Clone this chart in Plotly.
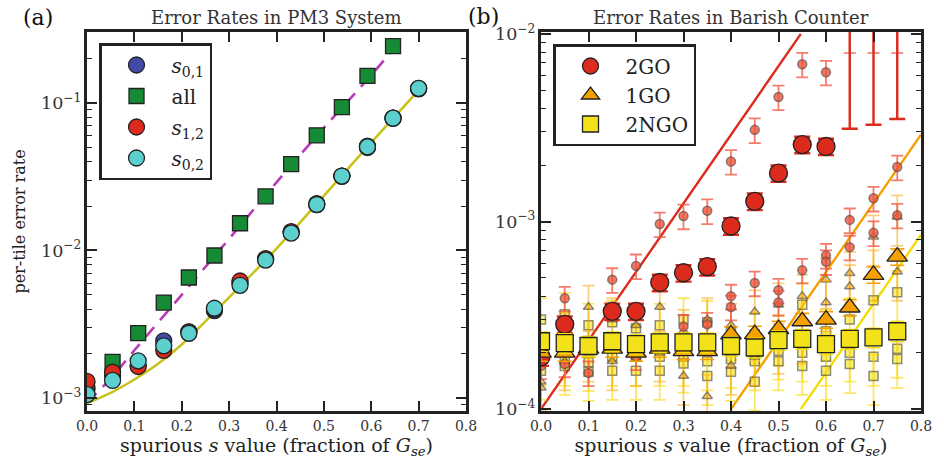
import plotly.graph_objects as go

# ---------------- Panel (a): PM3 system ----------------
s_a = [0.0, 0.054, 0.108, 0.162, 0.215, 0.269, 0.323, 0.377, 0.431, 0.485, 0.538, 0.592, 0.646, 0.700]
rate_s01 = [0.00115, 0.00140, 0.00165, 0.00243, 0.00280, 0.00390, 0.00600, 0.00870, 0.01330, 0.0205, 0.0320, 0.0500, 0.0790, 0.1250]
rate_all = [0.00115, 0.00175, 0.00275, 0.00443, 0.00655, 0.00924, 0.01530, 0.02330, 0.03850, 0.0605, 0.0940, 0.1530, 0.2440]
rate_s12 = [0.00129, 0.00149, 0.00163, 0.00210, 0.00280, 0.00400, 0.00620, 0.00880, 0.01340, 0.0208, 0.0320, 0.0510, 0.0790, 0.1260]
rate_s02 = [0.00105, 0.00131, 0.00178, 0.00225, 0.00274, 0.00405, 0.00580, 0.00860, 0.01310, 0.0205, 0.0320, 0.0505, 0.0790, 0.1260]

fit_all_s = [0.0, 0.05, 0.1, 0.2, 0.3, 0.4, 0.5, 0.6, 0.65]
fit_all_y = [0.00093, 0.00135, 0.0021, 0.0050, 0.0120, 0.029, 0.068, 0.155, 0.24]
fit_pair_s = [0.0, 0.05, 0.1, 0.15, 0.2, 0.3, 0.4, 0.5, 0.6, 0.7]
fit_pair_y = [0.00092, 0.00108, 0.00133, 0.0017, 0.0023, 0.0048, 0.0103, 0.0235, 0.054, 0.122]

# ---------------- Panel (b): Barish counter ----------------
go2_s = [0.0, 0.05, 0.15, 0.2, 0.25, 0.3, 0.35, 0.4, 0.45, 0.5, 0.55, 0.6, 0.65, 0.7, 0.75]
go2_mean = [0.00019, 0.000283, 0.000332, 0.000332, 0.000473, 0.000533, 0.000575, 0.000946, 0.00128, 0.00181, 0.00257, 0.00251, 0.03, 0.03, 0.03]
go2_low = [0.00017, 0.000255, 0.000298, 0.000298, 0.000425, 0.000478, 0.000515, 0.00085, 0.00115, 0.00163, 0.00231, 0.00226, 0.00312, 0.00328, 0.00352]
go2_high = [0.00021, 0.000312, 0.000365, 0.000365, 0.00052, 0.000585, 0.00063, 0.00104, 0.00141, 0.00199, 0.00283, 0.00276, 0.05, 0.05, 0.05]

go2_rep1_s = [0.05, 0.15, 0.2, 0.25, 0.3, 0.35, 0.4, 0.45, 0.5, 0.55, 0.6]
go2_rep1 = [0.00039, 0.00049, 0.00058, 0.00097, 0.00107, 0.00114, 0.00209, 0.00308, 0.00461, 0.00689, 0.00625]
go2_rep1_off_s = [0.65, 0.7, 0.75]
go2_rep1_off = [0.0113, 0.0113, 0.0113]
go2_rep2_s = [0.0, 0.05, 0.1, 0.2, 0.3, 0.35, 0.4, 0.45, 0.5, 0.55, 0.6, 0.65, 0.7, 0.75]
go2_rep2 = [0.00017, 0.000174, 0.000156, 0.00019, 0.000276, 0.000283, 0.00040, 0.00047, 0.00043, 0.00055, 0.00066, 0.00102, 0.00133, 0.00195]
go2_rep3_s = [0.4, 0.5, 0.6, 0.65, 0.7, 0.75]
go2_rep3 = [0.00035, 0.00037, 0.00061, 0.00073, 0.00087, 0.00108]

s_b = [0.0, 0.05, 0.1, 0.15, 0.2, 0.25, 0.3, 0.35, 0.4, 0.45, 0.5, 0.55, 0.6, 0.65, 0.7, 0.75]
go1_mean = [0.00020, 0.00020, 0.00021, 0.00021, 0.00020, 0.00021, 0.000204, 0.000204, 0.00025, 0.000251, 0.000267, 0.000294, 0.00030, 0.000348, 0.00052, 0.00065]
go1_rep1 = [0.00014, 0.00025, 0.00035, 0.00030, 0.00028, 0.00035, 0.00026, 0.00030, 0.00028, 0.00033, 0.00036, 0.00040, 0.00049, 0.00053, 0.00083, 0.00106]
go1_rep2 = [0.00013, 0.00018, 0.00020, 0.00018, 0.00019, 0.00020, 0.00015, 0.000117, 0.00017, 0.00019, 0.00022, 0.00025, 0.00037, 0.00045, 0.00054, 0.00054]

ngo_mean = [0.00023, 0.000225, 0.000217, 0.00023, 0.000222, 0.000227, 0.000227, 0.000227, 0.000217, 0.000213, 0.000233, 0.000237, 0.000222, 0.000237, 0.000241, 0.00026]
ngo_rep1 = [0.00030, 0.00032, 0.00028, 0.00029, 0.00027, 0.00028, 0.00030, 0.00029, 0.00026, 0.00025, 0.000244, 0.00036, 0.00026, 0.00030, 0.00038, 0.00042]
ngo_rep2 = [0.00019, 0.00019, 0.000178, 0.00019, 0.00019, 0.00019, 0.00019, 0.00018, 0.000185, 0.00018, 0.000205, 0.00020, 0.00019, 0.00020, 0.00019, 0.00021]
ngo_rep3 = [0.00016, 0.00017, 0.000158, 0.00016, 0.00016, 0.00016, 0.000175, 0.00015, 0.000158, 0.00014, 0.00018, 0.00017, 0.00016, 0.000174, 0.00015, 0.000185]

fit_go2_s = [0.0, 0.547]
fit_go2_y = [1e-4, 1e-2]
fit_go1_s = [0.40, 0.80]
fit_go1_y = [1e-4, 0.0029]
fit_ngo_s = [0.547, 0.80]
fit_ngo_y = [1e-4, 0.00085]

# ---------------- styling ----------------
FONT = "DejaVu Serif"
EDGE = "#222222"
BLUE, GREEN, RED, CYAN = "#4449a6", "#178a35", "#dc2a1c", "#5ccfcf"
ORANGE, YELLOW = "#f5a000", "#f3e21a"

fig = go.Figure()


def big(x, y, color, symbol, name, xa, ya, legend, size=16, err=0.03, errcolor=None, show=True):
    fig.add_trace(go.Scatter(
        x=x, y=y, mode="markers", name=name, xaxis=xa, yaxis=ya, legend=legend,
        legendgroup=name, showlegend=show,
        marker=dict(symbol=symbol, size=size, color=color, line=dict(color=EDGE, width=1.3)),
        error_y=dict(type="percent", value=err * 100, color=errcolor or color, thickness=1.5, width=7),
    ))


# panel (a) fits
fig.add_trace(go.Scatter(x=fit_all_s, y=fit_all_y, mode="lines", line=dict(color="#b43cb4", width=2.6, dash="13px,9px", shape="spline"),
                         xaxis="x", yaxis="y", showlegend=False, hoverinfo="skip"))
fig.add_trace(go.Scatter(x=fit_pair_s, y=fit_pair_y, mode="lines", line=dict(color="#c8c21c", width=2.6, shape="spline"),
                         xaxis="x", yaxis="y", showlegend=False, hoverinfo="skip"))

big(s_a, rate_s01, BLUE, "circle", "<i>s</i><sub>0,1</sub>", "x", "y", "legend")
big(s_a[:13], rate_all, GREEN, "square", "all", "x", "y", "legend", size=15)
big(s_a, rate_s12, RED, "circle", "<i>s</i><sub>1,2</sub>", "x", "y", "legend")
big(s_a, rate_s02, CYAN, "circle", "<i>s</i><sub>0,2</sub>", "x", "y", "legend")

# panel (b) fits
for xs, ys, c in [(fit_go2_s, fit_go2_y, RED), (fit_go1_s, fit_go1_y, ORANGE), (fit_ngo_s, fit_ngo_y, "#f5dc00")]:
    fig.add_trace(go.Scatter(x=xs, y=ys, mode="lines", line=dict(color=c, width=2.4),
                             xaxis="x2", yaxis="y2", showlegend=False, hoverinfo="skip"))


def faded(x, y, fill, err, errcolor, symbol):
    fig.add_trace(go.Scatter(
        x=x, y=y, mode="markers", xaxis="x2", yaxis="y2", showlegend=False,
        marker=dict(symbol=symbol, size=9, color=fill, line=dict(color="rgba(70,70,70,0.6)", width=1.5)),
        error_y=dict(type="percent", value=err * 100, color=errcolor, thickness=1.8, width=6),
    ))


for ys in (ngo_rep1, ngo_rep2, ngo_rep3):
    faded(s_b, ys, "rgba(243,226,26,0.6)", 0.3, "rgba(250,215,0,0.6)", "square")
for ys in (go1_rep1, go1_rep2):
    faded(s_b, ys, "rgba(245,160,0,0.55)", 0.3, "rgba(250,160,0,0.5)", "triangle-up")
faded(go2_rep1_s, go2_rep1, "rgba(238,85,60,0.8)", 0.15, "rgba(240,80,60,0.75)", "circle")
faded(go2_rep1_off_s, go2_rep1_off, "rgba(238,85,60,0.8)", 0.30, "rgba(240,80,60,0.6)", "circle")
faded(go2_rep2_s, go2_rep2, "rgba(238,85,60,0.8)", 0.15, "rgba(240,80,60,0.75)", "circle")
faded(go2_rep3_s, go2_rep3, "rgba(238,85,60,0.8)", 0.15, "rgba(240,80,60,0.75)", "circle")

fig.add_trace(go.Scatter(
    x=go2_s, y=go2_mean, mode="markers", name="2GO", xaxis="x2", yaxis="y2", legend="legend2", legendgroup="2GO",
    marker=dict(symbol="circle", size=18, color=RED, line=dict(color=EDGE, width=1.3)),
    error_y=dict(type="data", symmetric=False,
                 array=[h - m for h, m in zip(go2_high, go2_mean)],
                 arrayminus=[m - l for m, l in zip(go2_mean, go2_low)],
                 color=RED, thickness=2.4, width=8),
))
big(s_b, go1_mean, ORANGE, "triangle-up", "1GO", "x2", "y2", "legend2", size=18, err=0.1)
big(s_b, ngo_mean, YELLOW, "square", "2NGO", "x2", "y2", "legend2", size=17, err=0.12, errcolor="#f5e000")

# ---------------- layout ----------------
W, H = 944, 467
def px_x(a, b):
    return [a / W, b / W]
def px_y(top, bottom):
    return [(H - bottom) / H, (H - top) / H]

axis_common = dict(showline=True, linecolor="#222222", linewidth=2.6, mirror="ticks", ticks="inside",
                   ticklen=10, tickwidth=1.6, tickcolor="#222222", showgrid=False, zeroline=False,
                   automargin=False,
                   tickfont=dict(family=FONT, size=14, color="#333333"))
xcommon = dict(axis_common, range=[0, 0.8], dtick=0.1, tickformat=".1f",
               title=dict(text="spurious <i>s</i> value (fraction of <i>G</i><sub><i>se</i></sub>)",
                          font=dict(family=FONT, size=19, color="#222222"), standoff=6))
ycommon = dict(axis_common, type="log", dtick=1, exponentformat="power", showexponent="all",
               minor=dict(ticks="inside", ticklen=5, tickwidth=1.4, tickcolor="#222222", showgrid=False))

legend_common = dict(bordercolor="#222222", borderwidth=2.5, bgcolor="white",
                     font=dict(family=FONT, size=20, color="#222222"),
                     xanchor="left", yanchor="top", traceorder="grouped",
                     itemsizing="trace", itemwidth=60)

fig.update_layout(
    width=W, height=H, autosize=False,
    margin=dict(l=0, r=0, t=0, b=0, autoexpand=False),
    paper_bgcolor="white", plot_bgcolor="white",
    showlegend=True,
    xaxis=dict(xcommon, domain=px_x(87, 466), anchor="y"),
    yaxis=dict(ycommon, domain=px_y(32, 411), anchor="x", range=[-3.09, -0.517],
               title=dict(text="per-tile error rate", font=dict(family=FONT, size=16, color="#222222"), standoff=12)),
    xaxis2=dict(xcommon, domain=px_x(541, 921), anchor="y2"),
    yaxis2=dict(ycommon, domain=px_y(32, 411), anchor="x2", range=[-4.01, -1.99]),
    legend=dict(legend_common, x=99 / W, y=(H - 43) / H, tracegroupgap=2),
    legend2=dict(legend_common, x=553 / W, y=(H - 44) / H, tracegroupgap=0),
    annotations=[
        dict(text="Error Rates in PM3 System", x=(87 + 466) / 2 / W, y=(H - 17) / H, xref="paper", yref="paper",
             xanchor="center", yanchor="middle",
             showarrow=False, font=dict(family=FONT, size=18, color="#333333")),
        dict(text="Error Rates in Barish Counter", x=(541 + 921) / 2 / W, y=(H - 17) / H, xref="paper", yref="paper",
             xanchor="center", yanchor="middle",
             showarrow=False, font=dict(family=FONT, size=18, color="#333333")),
        dict(text="(a)", x=38 / W, y=(H - 17) / H, xref="paper", yref="paper", showarrow=False,
             xanchor="center", yanchor="middle",
             font=dict(family=FONT, size=22, color="#111111")),
        dict(text="(b)", x=484 / W, y=(H - 16) / H, xref="paper", yref="paper", showarrow=False,
             xanchor="center", yanchor="middle",
             font=dict(family=FONT, size=22, color="#111111")),
    ],
)

fig.write_html("out.html", config={"displayModeBar": False},
               post_script="document.body.style.margin='0';")
